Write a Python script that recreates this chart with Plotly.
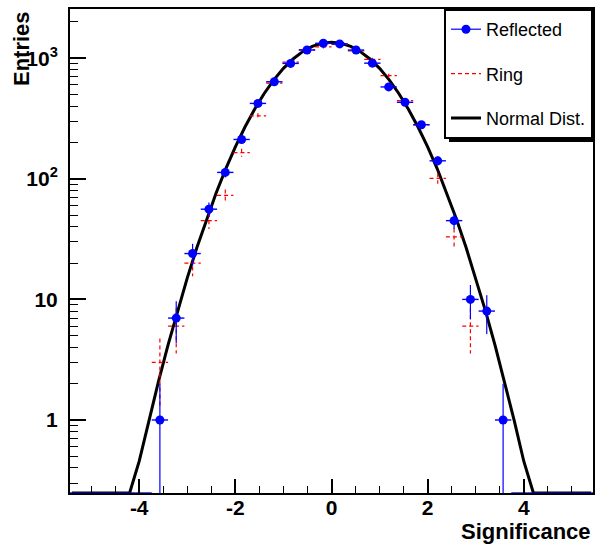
import math
import plotly.graph_objects as go

# ---------------- data ----------------
X_RANGE = [-5.44, 5.44]
Y_RANGE = [0.248, 2560]
BIN_HALF_WIDTH = 0.17

BIN_CENTERS = [-3.57, -3.23, -2.89, -2.55, -2.21, -1.87, -1.53, -1.19, -0.85, -0.51, -0.17,
               0.17, 0.51, 0.85, 1.19, 1.53, 1.87, 2.21, 2.55, 2.89, 3.23, 3.57]
REFLECTED = [1, 7, 24, 56, 113, 212, 422, 638, 906, 1169, 1330,
             1314, 1169, 910, 578, 431, 281, 141, 45, 10, 8, 1]
RING = [3, 6, 20, 45, 73, 165, 332, 621, 929, 1180, 1240,
        1300, 1150, 980, 717, 445, 280, 101, 33, 6, 0, 0]
EMPTY_BINS = [-5.27, -4.93, -4.59, -4.25, -3.91, 3.91, 4.25, 4.59, 4.93, 5.27]

CURVE_X = [-5.4, -5.2, -5.0, -4.8, -4.6, -4.4, -4.2, -4.0, -3.8, -3.6, -3.4, -3.2, -3.0,
           -2.8, -2.6, -2.4, -2.2, -2.0, -1.8, -1.6, -1.4, -1.2, -1.0, -0.8, -0.6, -0.4,
           -0.2, 0.0, 0.2, 0.4, 0.6, 0.8, 1.0, 1.2, 1.4, 1.6, 1.8, 2.0, 2.2, 2.4, 2.6,
           2.8, 3.0, 3.2, 3.4, 3.6, 3.8, 4.0, 4.2, 4.4, 4.6, 4.8, 5.0, 5.2, 5.4]
CURVE_Y = [0.0006, 0.0018, 0.005, 0.0134, 0.0345, 0.085, 0.200, 0.455, 0.994, 2.08, 4.20,
           8.12, 15.1, 26.9, 46.2, 76.2, 121, 184, 269, 378, 510, 661, 824, 986, 1134,
           1254, 1331, 1358, 1331, 1254, 1134, 986, 824, 661, 510, 378, 269, 184, 121,
           76.2, 46.2, 26.9, 15.1, 8.12, 4.20, 2.08, 0.994, 0.455, 0.200, 0.085, 0.0345,
           0.0134, 0.005, 0.0018, 0.0006]

X_TICKS = [-4, -2, 0, 2, 4]
X_TICK_TEXT = ["-4", "-2", "0", "2", "4"]
Y_TICKS = [1, 10, 100, 1000]
Y_TICK_TEXT = ["1", "10", "10<sup>2</sup>", "10<sup>3</sup>"]

BLUE = "#0000ff"
RED = "#ff0000"
FONT = "Liberation Sans, Arial, Helvetica, sans-serif"

fig = go.Figure()

# Normal distribution curve (values below the axis floor drawn along the floor, as ROOT does)
fig.add_trace(go.Scatter(
    x=CURVE_X, y=[max(v, Y_RANGE[0]) for v in CURVE_Y],
    mode="lines", line=dict(color="black", width=3),
    name="Normal Dist.", legendgroup="c", legendrank=3, showlegend=True))

# Ring: dashed error crosses
rx, ry = [], []
for c, v in zip(BIN_CENTERS, RING):
    if v <= 0:
        continue
    e = math.sqrt(v)
    rx += [c, c, None, c - BIN_HALF_WIDTH, c + BIN_HALF_WIDTH, None]
    ry += [v + e, max(v - e, Y_RANGE[0] * 0.5), None, v, v, None]
fig.add_trace(go.Scatter(
    x=rx, y=ry, mode="lines", line=dict(color=RED, width=1.2, dash="4px,3px"),
    name="Ring", legendgroup="b", legendrank=2, connectgaps=False))

# Reflected: empty bins (horizontal bars on the floor)
fig.add_trace(go.Scatter(
    x=EMPTY_BINS, y=[Y_RANGE[0]] * len(EMPTY_BINS), mode="markers",
    marker=dict(size=1, color=BLUE, opacity=0),
    error_x=dict(type="constant", value=BIN_HALF_WIDTH, color=BLUE, thickness=1.4, width=0),
    showlegend=False, hoverinfo="skip"))

# Reflected: points with Poisson errors
fig.add_trace(go.Scatter(
    x=BIN_CENTERS, y=REFLECTED, mode="markers",
    marker=dict(symbol="circle", size=9, color=BLUE),
    error_y=dict(type="data", array=[math.sqrt(v) for v in REFLECTED],
                 arrayminus=[math.sqrt(v) for v in REFLECTED],
                 color=BLUE, thickness=1.2, width=0),
    error_x=dict(type="constant", value=BIN_HALF_WIDTH, color=BLUE, thickness=1.4, width=0),
    showlegend=False))

# legend entry for Reflected (line + marker)
fig.add_trace(go.Scatter(
    x=[None], y=[None], mode="lines+markers",
    line=dict(color=BLUE, width=1.2), marker=dict(size=9, color=BLUE),
    name="Reflected", legendgroup="a", legendrank=1))

# ---- layout geometry ----
W, H = 595, 547
ML, MR, MT, MB = 70, 2, 9, 54
PW, PH = W - ML - MR, H - MT - MB


def px_x(p):
    return (p - ML) / PW


def px_y(p):
    return (H - MB - p) / PH


# legend shadow
fig.add_shape(type="rect", xref="paper", yref="paper",
              x0=px_x(449), x1=px_x(600), y0=px_y(142), y1=px_y(13),
              fillcolor="black", line=dict(width=0), layer="above")

fig.update_layout(
    width=W, height=H,
    margin=dict(l=ML, r=MR, t=MT, b=MB, pad=0, autoexpand=False),
    paper_bgcolor="white", plot_bgcolor="white",
    font=dict(family=FONT, color="black"),
    showlegend=True,
    legend=dict(
        x=1, y=1, xanchor="right", yanchor="top",
        bgcolor="white", bordercolor="black", borderwidth=2,
        font=dict(family=FONT, size=18, color="black"),
        traceorder="grouped", tracegroupgap=18,
        itemwidth=30,
    ),
    xaxis=dict(
        range=X_RANGE, showgrid=False, zeroline=False,
        showline=True, linecolor="black", linewidth=2, mirror=True,
        tickmode="array", tickvals=X_TICKS, ticktext=X_TICK_TEXT,
        ticks="inside", ticklen=14, tickwidth=1.5, tickcolor="black",
        tickfont=dict(family=FONT, size=21, weight="bold", color="black"),
        ticklabelstandoff=-5,
        minor=dict(dtick=0.5, tick0=0, ticks="inside", ticklen=7, tickwidth=1.2,
                   tickcolor="black", showgrid=False),
    ),
    yaxis=dict(
        type="log", range=[math.log10(Y_RANGE[0]), math.log10(Y_RANGE[1])],
        showgrid=False, zeroline=False,
        showline=True, linecolor="black", linewidth=2, mirror=True,
        tickmode="array", tickvals=Y_TICKS, ticktext=Y_TICK_TEXT,
        ticks="inside", ticklen=16, tickwidth=1.5, tickcolor="black",
        tickfont=dict(family=FONT, size=21, weight="bold", color="black"),
        ticklabelstandoff=6,
        minor=dict(tickmode="array",
                   tickvals=[m * 10 ** k for k in range(-1, 4) for m in range(2, 10)],
                   ticks="inside", ticklen=8, tickwidth=1.2, tickcolor="black",
                   showgrid=False),
    ),
    annotations=[
        dict(text="<b>Entries</b>", xref="paper", yref="paper",
             x=px_x(21.5), y=1, xanchor="center", yanchor="top", textangle=-90,
             showarrow=False, font=dict(family=FONT, size=22, color="black")),
        dict(text="<b>Significance</b>", xref="paper", yref="paper",
             x=px_x(593), y=px_y(531), xanchor="right", yanchor="middle",
             showarrow=False, font=dict(family=FONT, size=22, color="black")),
    ],
)

fig.write_html(
    "out.html",
    config={"displayModeBar": False},
    post_script="document.body.style.margin='0';document.body.style.overflow='hidden';",
)
